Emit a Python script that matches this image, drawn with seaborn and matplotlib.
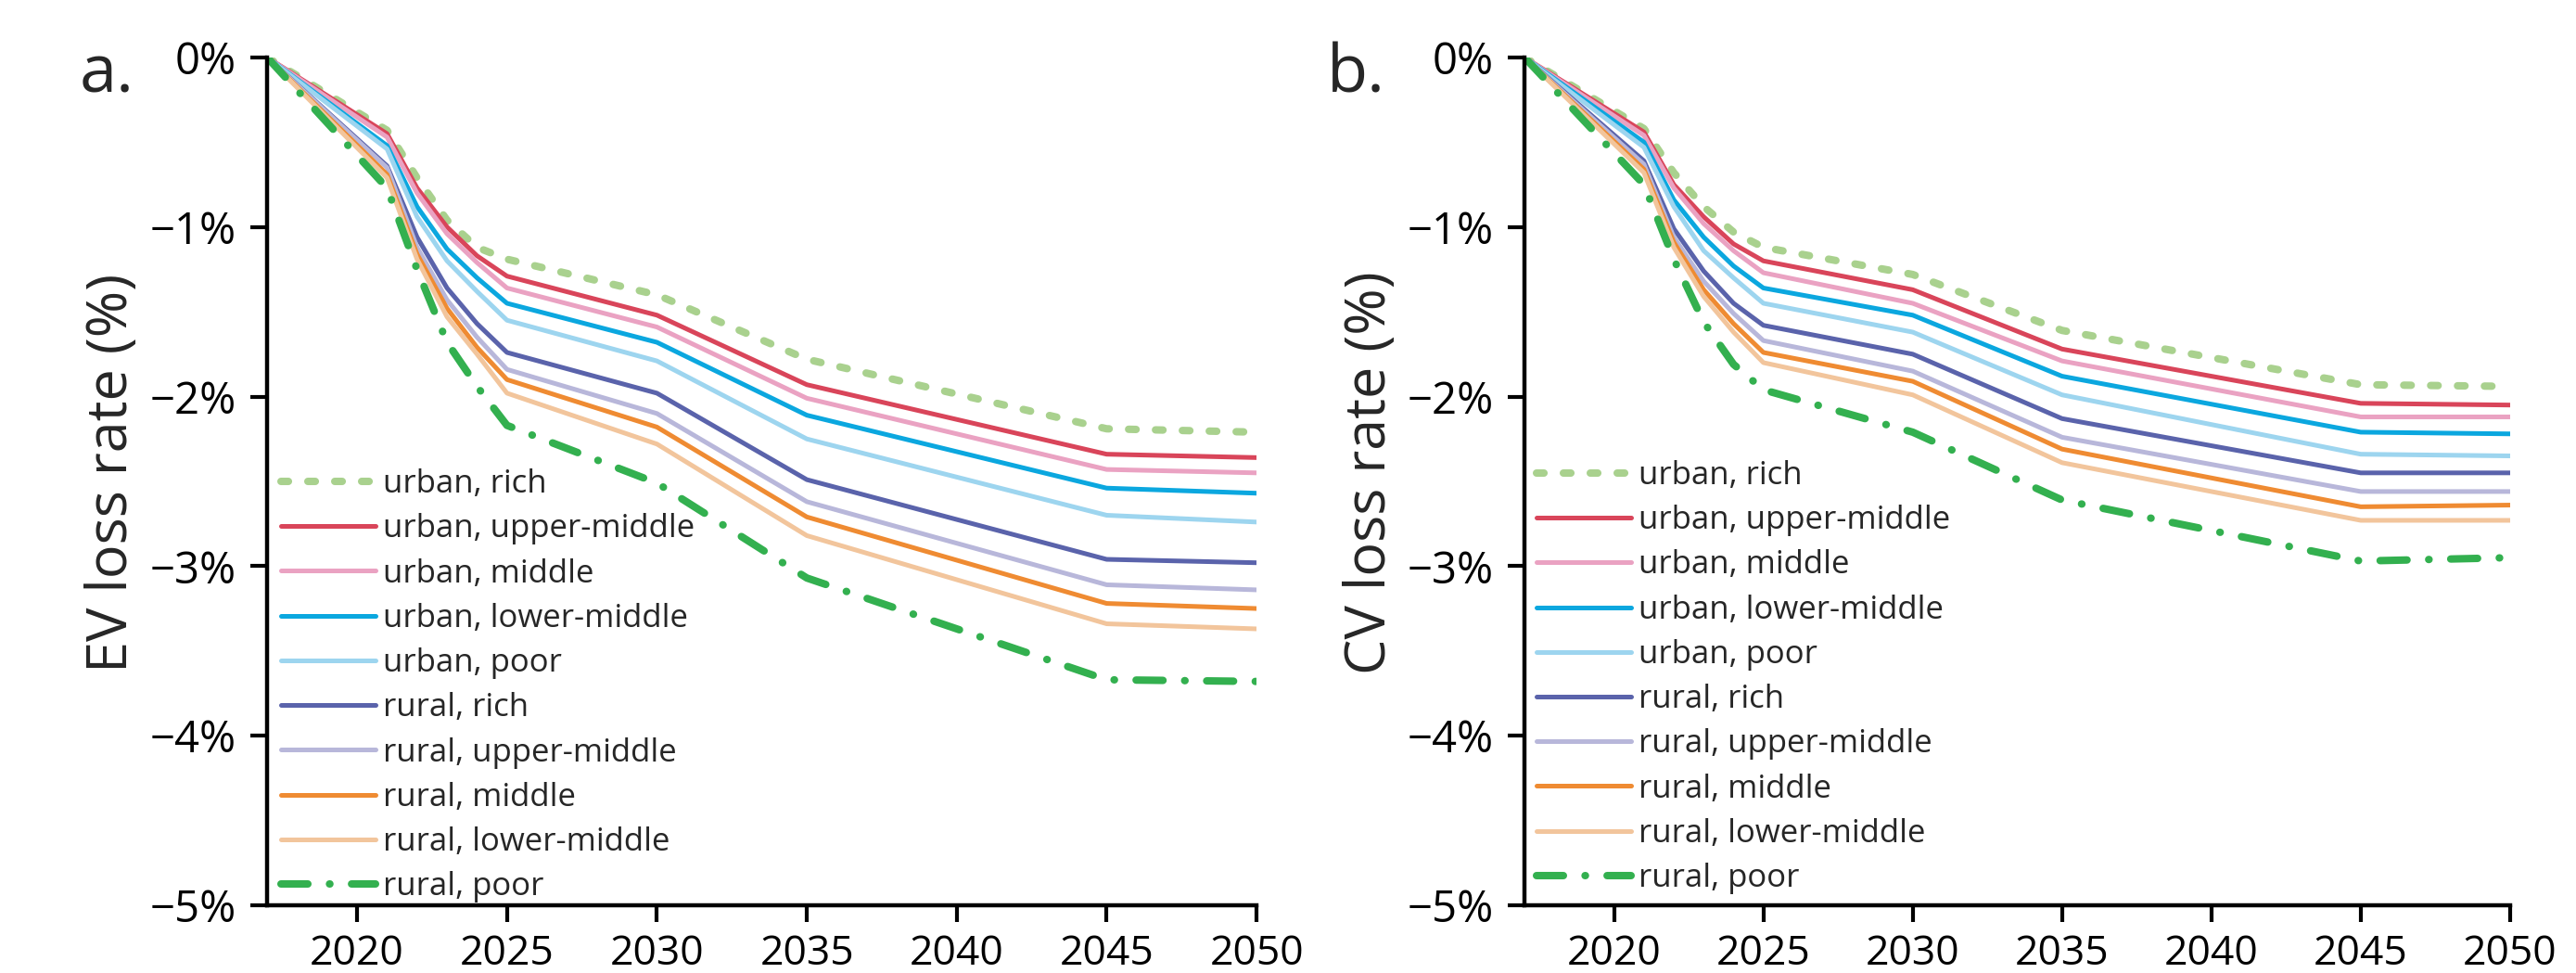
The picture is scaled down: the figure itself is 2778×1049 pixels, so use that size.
import numpy as np
import pandas as pd
import matplotlib
matplotlib.use("Agg")
import matplotlib.pyplot as plt
import seaborn as sns
from matplotlib.ticker import FuncFormatter

# ---- data -----------------------------------------------------------------
years = [2017, 2021, 2022, 2023, 2024, 2025, 2030, 2035, 2045, 2050]

groups = ["urban, rich", "urban, upper-middle", "urban, middle", "urban, lower-middle",
          "urban, poor", "rural, rich", "rural, upper-middle", "rural, middle",
          "rural, lower-middle", "rural, poor"]

# EV loss rate (%)
ev_urban_rich   = [0, -0.43, -0.71, -0.96, -1.12, -1.19, -1.40, -1.78, -2.19, -2.21]
ev_urban_upper  = [0, -0.45, -0.77, -1.00, -1.17, -1.29, -1.52, -1.93, -2.34, -2.36]
ev_urban_middle = [0, -0.47, -0.80, -1.04, -1.21, -1.36, -1.59, -2.01, -2.43, -2.45]
ev_urban_lower  = [0, -0.52, -0.88, -1.13, -1.30, -1.45, -1.68, -2.11, -2.54, -2.57]
ev_urban_poor   = [0, -0.54, -0.94, -1.20, -1.38, -1.55, -1.79, -2.25, -2.70, -2.74]
ev_rural_rich   = [0, -0.64, -1.06, -1.36, -1.57, -1.74, -1.98, -2.49, -2.96, -2.98]
ev_rural_upper  = [0, -0.65, -1.12, -1.43, -1.65, -1.84, -2.10, -2.62, -3.11, -3.14]
ev_rural_middle = [0, -0.69, -1.16, -1.48, -1.71, -1.90, -2.18, -2.71, -3.22, -3.25]
ev_rural_lower  = [0, -0.71, -1.19, -1.53, -1.75, -1.98, -2.28, -2.82, -3.34, -3.37]
ev_rural_poor   = [0, -0.77, -1.25, -1.68, -1.94, -2.17, -2.51, -3.07, -3.67, -3.68]

# CV loss rate (%)
cv_urban_rich   = [0, -0.42, -0.68, -0.88, -1.03, -1.12, -1.28, -1.61, -1.93, -1.94]
cv_urban_upper  = [0, -0.44, -0.75, -0.94, -1.10, -1.20, -1.37, -1.72, -2.04, -2.05]
cv_urban_middle = [0, -0.46, -0.77, -0.98, -1.14, -1.27, -1.45, -1.79, -2.12, -2.12]
cv_urban_lower  = [0, -0.50, -0.84, -1.06, -1.23, -1.36, -1.52, -1.88, -2.21, -2.22]
cv_urban_poor   = [0, -0.53, -0.88, -1.14, -1.30, -1.45, -1.62, -1.99, -2.34, -2.35]
cv_rural_rich   = [0, -0.61, -1.01, -1.26, -1.45, -1.58, -1.75, -2.13, -2.45, -2.45]
cv_rural_upper  = [0, -0.63, -1.06, -1.32, -1.51, -1.67, -1.85, -2.24, -2.56, -2.56]
cv_rural_middle = [0, -0.66, -1.09, -1.37, -1.57, -1.74, -1.91, -2.31, -2.65, -2.64]
cv_rural_lower  = [0, -0.68, -1.12, -1.41, -1.62, -1.80, -1.99, -2.39, -2.73, -2.73]
cv_rural_poor   = [0, -0.75, -1.19, -1.56, -1.81, -1.96, -2.21, -2.61, -2.97, -2.95]

ev_series = [ev_urban_rich, ev_urban_upper, ev_urban_middle, ev_urban_lower, ev_urban_poor,
             ev_rural_rich, ev_rural_upper, ev_rural_middle, ev_rural_lower, ev_rural_poor]
cv_series = [cv_urban_rich, cv_urban_upper, cv_urban_middle, cv_urban_lower, cv_urban_poor,
             cv_rural_rich, cv_rural_upper, cv_rural_middle, cv_rural_lower, cv_rural_poor]

colors = ["#a9d18e", "#d9455a", "#eaa2c2", "#0ba7df", "#9dd5ef",
          "#5a63ab", "#b8b7da", "#ef8b32", "#f2c59c", "#33b04f"]
styles = ["dash", "solid", "solid", "solid", "solid",
          "solid", "solid", "solid", "solid", "dashdot"]

# ---- style ----------------------------------------------------------------
sns.set_theme(style="ticks")
plt.rcParams["font.family"] = ["Open Sans", "DejaVu Sans"]
plt.rcParams["axes.unicode_minus"] = True

fig = plt.figure(figsize=(13.89, 5.245), dpi=200)
ax_a = fig.add_axes([0.1037, 0.0696, 0.3841, 0.8714])
ax_b = fig.add_axes([0.5918, 0.0696, 0.3826, 0.8714])


def draw_panel(ax, series, ylabel, legend_anchor):
    for name, vals, col, st in zip(groups, series, colors, styles):
        df = pd.DataFrame({"year": years, "loss": vals})
        lw = 1.8 if st == "solid" else 2.9
        sns.lineplot(data=df, x="year", y="loss", ax=ax, color=col, linewidth=lw,
                     label=name, legend=False, sort=False)
        line = ax.lines[-1]
        line.set_solid_joinstyle("round")
        if st == "dash":
            line.set_linestyle((0, (1.0, 2.6)))
            line.set_dash_capstyle("round")
        elif st == "dashdot":
            line.set_linestyle((0, (3.6, 2.9, 0.05, 2.9)))
            line.set_dash_capstyle("round")

    ax.set_xlim(2017, 2050)
    ax.set_ylim(-5, 0)
    ax.set_xticks([2020, 2025, 2030, 2035, 2040, 2045, 2050])
    ax.set_yticks([0, -1, -2, -3, -4, -5])
    ax.yaxis.set_major_formatter(FuncFormatter(
        lambda v, p: "0%" if v == 0 else f"\u2212{abs(v):.0f}%"))
    ax.set_xlabel("")
    ax.set_ylabel(ylabel, fontsize=22)
    ax.yaxis.set_label_coords(-0.128, 0.51)
    ax.tick_params(axis="both", length=6.5, width=1.5,
                   color="black", labelcolor="black")
    ax.tick_params(axis="x", pad=4.5, labelsize=16)
    ax.tick_params(axis="y", pad=5.5, labelsize=17)
    for side in ("top", "right"):
        ax.spines[side].set_visible(False)
    for side in ("left", "bottom"):
        ax.spines[side].set_linewidth(1.6)
        ax.spines[side].set_color("black")

    ax.legend(loc="lower left", bbox_to_anchor=legend_anchor, frameon=False,
              fontsize=12.5, handlelength=2.95, handletextpad=0.22,
              labelspacing=0.41, borderpad=0, borderaxespad=0)


draw_panel(ax_a, ev_series, "EV loss rate (%)", (0.014, 0.003))
draw_panel(ax_b, cv_series, "CV loss rate (%)", (0.012, 0.013))

fig.text(0.031, 0.905, "a.", fontsize=26, ha="left", va="baseline")
fig.text(0.515, 0.905, "b.", fontsize=26, ha="left", va="baseline")

fig.savefig("out.png", dpi=200)
